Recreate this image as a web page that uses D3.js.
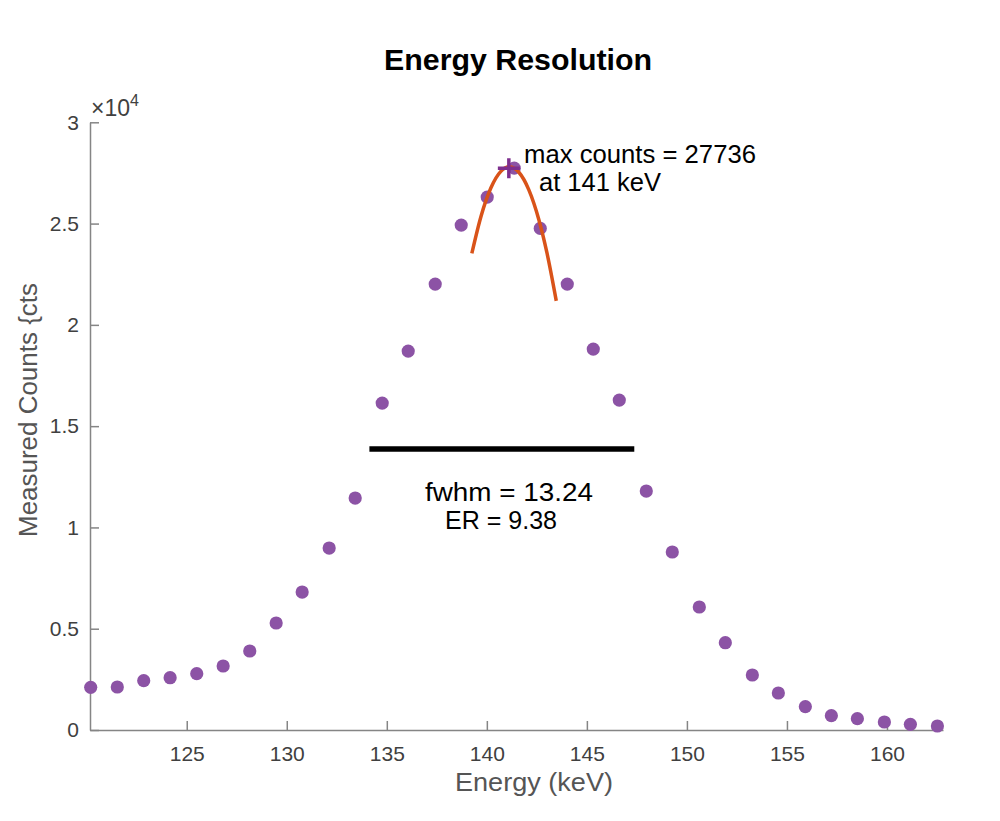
<!DOCTYPE html>
<html>
<head>
<meta charset="utf-8">
<script src="https://cdn.jsdelivr.net/npm/d3@7"></script>
<style>
  html, body { margin: 0; padding: 0; background: #fff; }
  svg { display: block; font-family: "Liberation Sans", Arial, Helvetica, sans-serif; }
</style>
</head>
<body>
<svg id="chart" width="1000" height="821"></svg>
<script>
// ---- data ----
const energy = [120.20, 121.53, 122.85, 124.17, 125.50, 126.82, 128.15, 129.47, 130.77, 132.12,
                133.42, 134.77, 136.07, 137.42, 138.72, 140.02, 141.37, 142.67, 144.02, 145.32,
                146.62, 147.97, 149.27, 150.62, 151.92, 153.27, 154.57, 155.92, 157.22, 158.52,
                159.87, 161.17, 162.52];
const counts = [2108, 2122, 2434, 2581, 2779, 3159, 3899, 5281, 6811, 8983,
                11451, 16140, 18707, 22014, 24926, 26308, 27736, 24763, 22014, 18806,
                16288, 11797, 8786, 6071, 4309, 2715, 1826, 1150, 706, 558,
                395, 281, 197];
const fitEnergy = [139.25, 139.7, 140.2, 140.7, 141.13, 141.6, 142.1, 142.6, 143.0, 143.47];
const fitCounts = [23530, 25330, 26755, 27577, 27800, 27533, 26663, 25190, 23576, 21185];
const peak = { energy: 141.1, counts: 27736 };
const fwhmLine = { x0: 134.13, x1: 147.37, y: 13868 };
const xTicks = [125, 130, 135, 140, 145, 150, 155, 160];
const yTicks = [0, 5000, 10000, 15000, 20000, 25000, 30000];
const yTickLabels = ["0", "0.5", "1", "1.5", "2", "2.5", "3"];
const titleText = "Energy Resolution";
const xLabelText = "Energy (keV)";
const yLabelText = "Measured Counts {cts";
const annMax = ["max counts = 27736", "at 141 keV"];
const annFwhm = ["fwhm = 13.24", "ER = 9.38"];

// ---- layout ----
const svg = d3.select("#chart");
const x = d3.scaleLinear().domain([120.165, 162.8]).range([90, 943]);
const y = d3.scaleLinear().domain([0, 30000]).range([730, 122.3]);

const axisColor = "#858585";
const tickTextColor = "#404040";
const ff = "'Liberation Sans', Arial, Helvetica, sans-serif";

// x axis
const gx = svg.append("g").attr("transform", `translate(0,${y(0)})`)
  .call(d3.axisBottom(x).tickValues(xTicks).tickSizeInner(-9).tickSizeOuter(0).tickPadding(16));
gx.select(".domain").attr("stroke", axisColor).attr("stroke-width", 1.5);
gx.selectAll(".tick line").attr("stroke", axisColor).attr("stroke-width", 1.5);
gx.selectAll(".tick text").attr("fill", tickTextColor).attr("font-size", 21).attr("font-family", ff);

// y axis
const gy = svg.append("g").attr("transform", `translate(${x.range()[0]},0)`)
  .call(d3.axisLeft(y).tickValues(yTicks).tickFormat((d, i) => yTickLabels[i])
    .tickSizeInner(-9).tickSizeOuter(0).tickPadding(11));
gy.select(".domain").attr("stroke", axisColor).attr("stroke-width", 1.5);
gy.selectAll(".tick line").attr("stroke", axisColor).attr("stroke-width", 1.5);
gy.selectAll(".tick text").attr("fill", tickTextColor).attr("font-size", 21).attr("font-family", ff);

// exponent label
const ex = svg.append("text").attr("x", 91).attr("y", 116).attr("fill", tickTextColor).attr("font-size", 23);
ex.append("tspan").text("\u00D710");
ex.append("tspan").attr("font-size", 16).attr("dy", -10).text("4");

// data points
svg.append("g").selectAll("circle").data(energy).join("circle")
  .attr("cx", (d) => x(d))
  .attr("cy", (d, i) => y(counts[i]))
  .attr("r", 6.6)
  .attr("fill", "#8c53a5");

// fit curve
const line = d3.line().x((d) => x(d[0])).y((d) => y(d[1])).curve(d3.curveMonotoneX);
svg.append("path")
  .datum(fitEnergy.map((e, i) => [e, fitCounts[i]]))
  .attr("d", line)
  .attr("fill", "none")
  .attr("stroke", "#D95319")
  .attr("stroke-width", 3.5);

// peak marker (+)
const px = x(peak.energy), py = y(peak.counts);
svg.append("path")
  .attr("d", `M${px - 11},${py}H${px + 11}M${px},${py - 10}V${py + 10}`)
  .attr("stroke", "#7E2F8E")
  .attr("stroke-width", 3.5)
  .attr("fill", "none");

// fwhm line
svg.append("line")
  .attr("x1", x(fwhmLine.x0)).attr("x2", x(fwhmLine.x1))
  .attr("y1", y(fwhmLine.y)).attr("y2", y(fwhmLine.y))
  .attr("stroke", "#000").attr("stroke-width", 5.5);

// text helper (fixed width to match reference spacing)
function label(txt, xp, yp, size, width, opts = {}) {
  const t = svg.append("text")
    .attr("x", xp).attr("y", yp)
    .attr("font-size", size)
    .attr("fill", opts.fill || "#000")
    .attr("font-weight", opts.weight || "normal")
    .attr("textLength", width)
    .attr("lengthAdjust", "spacingAndGlyphs")
    .text(txt);
  if (opts.rotate) t.attr("transform", `rotate(-90,${xp},${yp})`);
  return t;
}

label(titleText, 384, 70, 29, 268, { weight: "bold" });
label(xLabelText, 455, 791, 25, 158, { fill: "#555" });
label(yLabelText, 37, 537, 25, 254, { fill: "#555", rotate: true });
label(annMax[0], 524, 163, 25, 232);
label(annMax[1], 539, 191, 25, 122);
label(annFwhm[0], 425, 501, 25, 168);
label(annFwhm[1], 445, 529, 25, 112);
</script>
</body>
</html>
